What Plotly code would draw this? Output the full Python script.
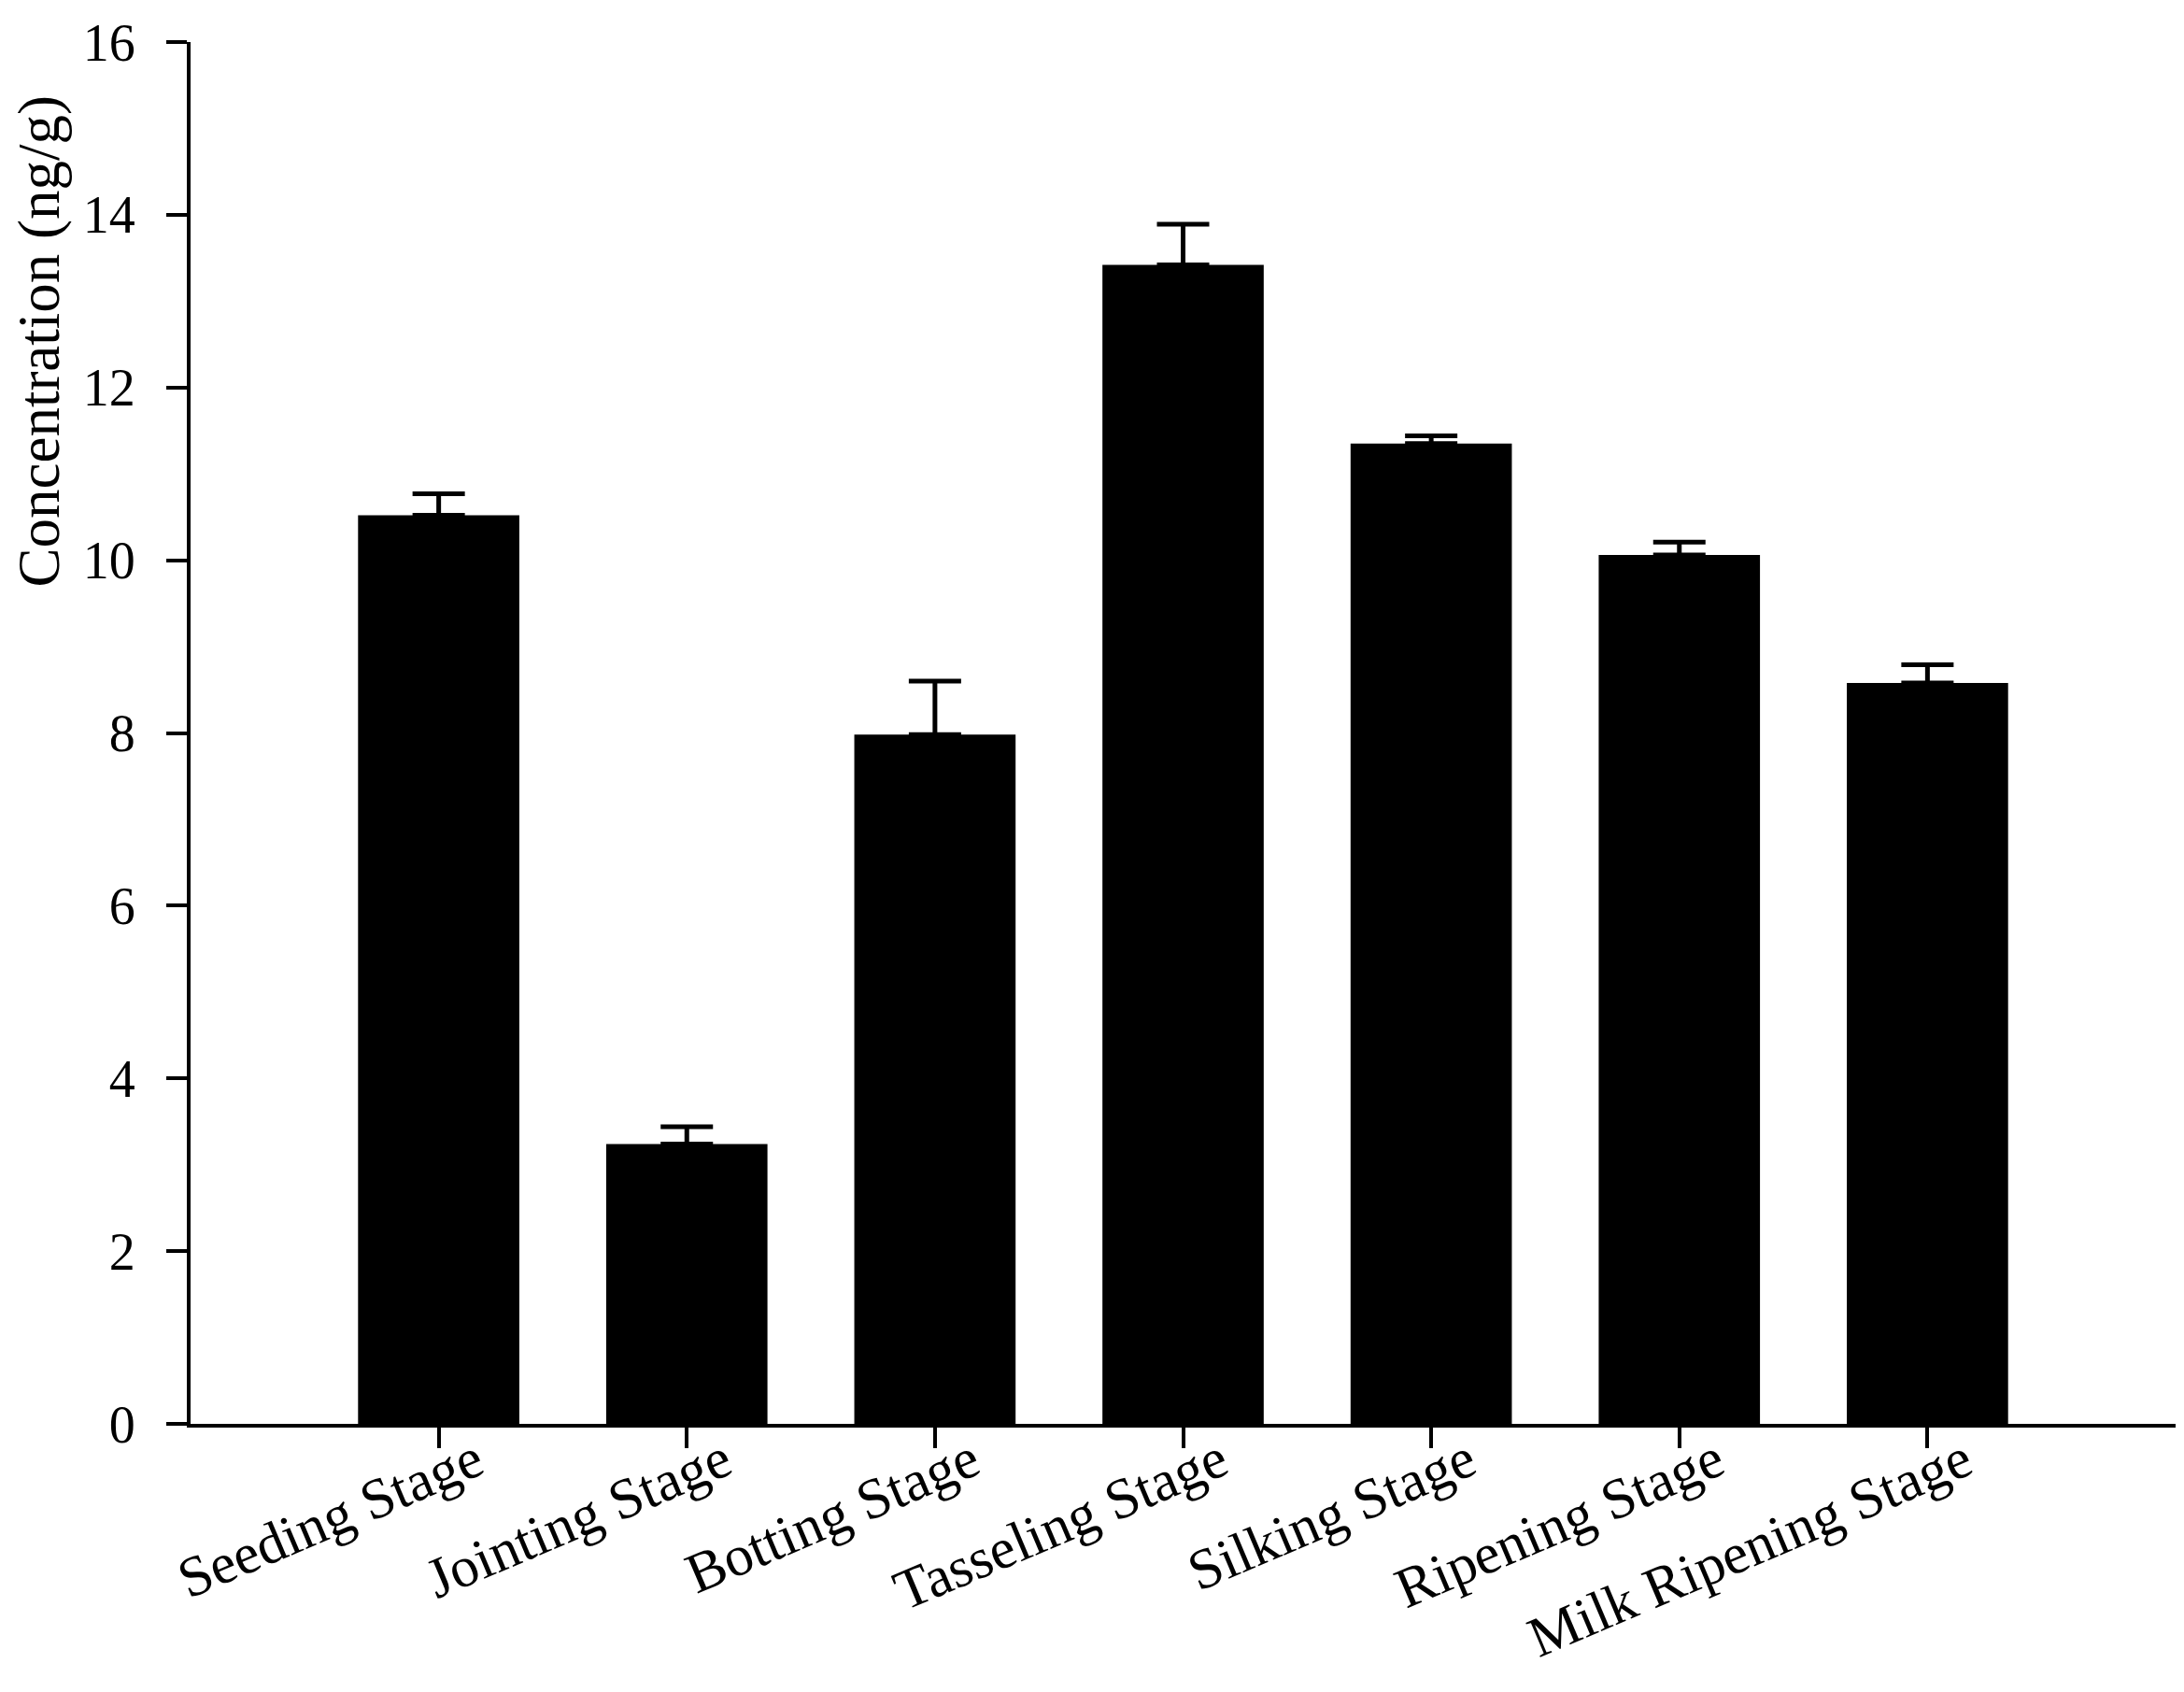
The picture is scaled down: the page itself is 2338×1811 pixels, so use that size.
import plotly.graph_objects as go

categories = ["Seeding Stage", "Jointing Stage", "Botting Stage", "Tasseling Stage",
              "Silking Stage", "Ripening Stage", "Milk Ripening Stage"]
values = [10.52, 3.24, 7.98, 13.42, 11.35, 10.06, 8.58]
errors = [0.25, 0.20, 0.62, 0.47, 0.09, 0.15, 0.21]
y_ticks = [0, 2, 4, 6, 8, 10, 12, 14, 16]

FONT = "Liberation Serif, Times New Roman, serif"

fig = go.Figure()
fig.add_trace(go.Bar(
    x=list(range(len(categories))),
    y=values,
    marker=dict(color="black", line=dict(width=0)),
    width=0.65,
    error_y=dict(type="data", array=errors, arrayminus=[0] * len(errors),
                 symmetric=False, color="black", thickness=5, width=28),
    showlegend=False,
))

fig.update_layout(
    width=2322, height=1795,
    margin=dict(l=196, r=1, t=37, b=279),
    paper_bgcolor="white", plot_bgcolor="white",
    font=dict(family=FONT, color="black", size=55),
    xaxis=dict(
        range=[-1, 7], automargin=False,
        tickmode="array", tickvals=list(range(len(categories))), ticktext=categories,
        tickangle=-23,
        tickfont=dict(size=61, family=FONT),
        showline=True, linecolor="black", linewidth=4,
        ticks="outside", ticklen=22, tickwidth=4, tickcolor="black",
        ticklabelshift=40, ticklabelstandoff=-45,
        showgrid=False, zeroline=False,
    ),
    yaxis=dict(
        range=[0, 16], automargin=False,
        tickmode="array", tickvals=y_ticks,
        tickfont=dict(size=56, family=FONT),
        showline=True, linecolor="black", linewidth=4,
        ticks="outside", ticklen=22, tickwidth=4, tickcolor="black",
        ticklabelstandoff=22,
        showgrid=False, zeroline=False,
    ),
    annotations=[dict(
        text="Concentration (ng/g)", textangle=-90,
        xref="paper", yref="paper", x=-0.076, y=0.7836,
        xanchor="center", yanchor="middle", showarrow=False,
        font=dict(size=63, family=FONT, color="black"),
    )],
)

fig.write_html("out.html")
